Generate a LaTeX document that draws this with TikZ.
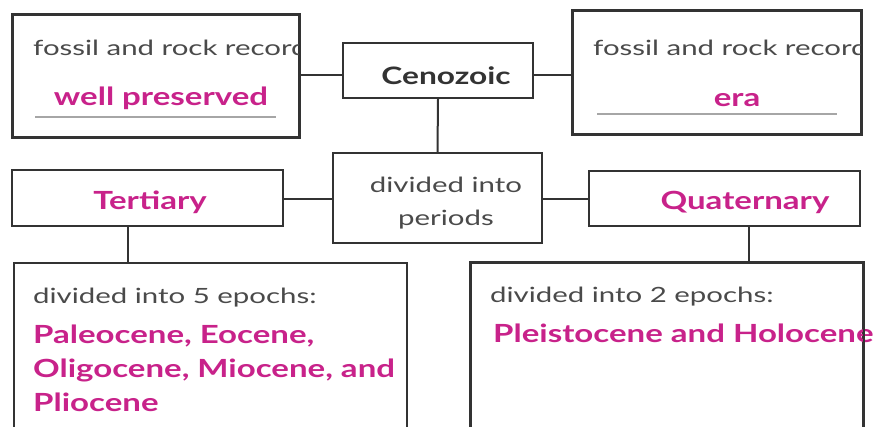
\documentclass[tikz,border=0pt]{standalone}
\usepackage{fontspec}
\setmainfont{Lato}
\newfontfamily\regf{Lato}[FakeStretch=1.4]
\newfontfamily\bldf{Lato}[FakeStretch=1.32]
\definecolor{mag}{HTML}{C8228A}
\definecolor{txt}{HTML}{4A4A4A}
\definecolor{ln}{HTML}{333333}
\begin{document}
\begin{tikzpicture}[x=1pt,y=-1pt,
  box/.style={draw=ln,line width=2pt,rectangle,inner sep=0pt},
  conn/.style={draw=ln,line width=2pt},
  plain/.style={text=txt,font=\regf\fontsize{21}{33}\selectfont,inner sep=0pt},
  hl/.style={text=mag,font=\bldf\bfseries\fontsize{25}{34}\selectfont,inner sep=0pt},
  uline/.style={draw=gray!70,line width=1.2pt}]
\clip (0,0) rectangle (896,426);
\fill[white] (0,0) rectangle (896,426);
% boxes
\node[box,minimum width=286pt,minimum height=122pt] (A) at (155.5,75.5) {};
\node[box,minimum width=190pt,minimum height=55pt] (C) at (438,70.5) {};
\node[box,minimum width=288pt,minimum height=123pt] (B) at (717,72.5) {};
\node[box,minimum width=209pt,minimum height=90pt] (D) at (437.5,198) {};
\node[box,minimum width=271pt,minimum height=56pt] (T) at (147.5,198) {};
\node[box,minimum width=271pt,minimum height=55pt] (Q) at (724.5,198.5) {};
\node[box,minimum width=393pt,minimum height=200pt,anchor=north west] (L) at (13,262) {};
\node[box,minimum width=392pt,minimum height=200pt,anchor=north west] (R) at (470,262) {};
% texts (clipped to their boxes)
\begin{scope}
\clip (A.north west) rectangle (A.south east);
\node[plain,anchor=west] (at1) at (33,48) {fossil and rock record};
\end{scope}
\begin{scope}
\clip (B.north west) rectangle (B.south east);
\node[plain,anchor=west] (bt1) at (593,48) {fossil and rock record};
\end{scope}
\node[hl] (at2) at (161,98) {well preserved};
\coordinate (u1) at (35,117);
\coordinate (u2) at (276,117);
\draw[uline] (u1) -- (u2);
\node[text=ln,font=\bldf\bfseries\fontsize{24}{28}\selectfont,inner sep=0pt] (ct) at (446,76) {Cenozoic};
\node[hl] (bt2) at (737,100) {era};
\coordinate (u3) at (597,114);
\coordinate (u4) at (837,114);
\draw[uline] (u3) -- (u4);
\node[plain,align=center] (dt) at (446,203) {divided into\\periods};
\node[hl] (tt) at (150,202) {Tertiary};
\node[hl] (qt) at (745,202) {Quaternary};
\node[plain,anchor=west] (lt1) at (33,298) {divided into 5 epochs:};
\node[hl,anchor=west,align=left] (lt2) at (33,368) {Paleocene, Eocene,\\Oligocene, Miocene, and\\Pliocene};
\node[plain,anchor=west] (rt1) at (490,297) {divided into 2 epochs:};
\node[hl,anchor=west] (rt2) at (493,333) {Pleistocene and Holocene};
% redraw box outlines over text
\draw[box] (A.north west) rectangle (A.south east);
\draw[box] (B.north west) rectangle (B.south east);
\draw[box] (R.north west) rectangle (R.south east);
% connectors
\draw[conn] (A.east |- 0,75) -- (C.west |- 0,75);
\draw[conn] (C.east |- 0,75) -- (B.west |- 0,75);
\draw[conn] (C.south) -- (D.north);
\draw[conn] (T.east |- 0,199) -- (D.west |- 0,199);
\draw[conn] (D.east |- 0,199) -- (Q.west |- 0,199);
\draw[conn] (T.south -| 128,0) -- (L.north -| 128,0);
\draw[conn] (Q.south -| 749,0) -- (R.north -| 749,0);
\end{tikzpicture}
\end{document}
